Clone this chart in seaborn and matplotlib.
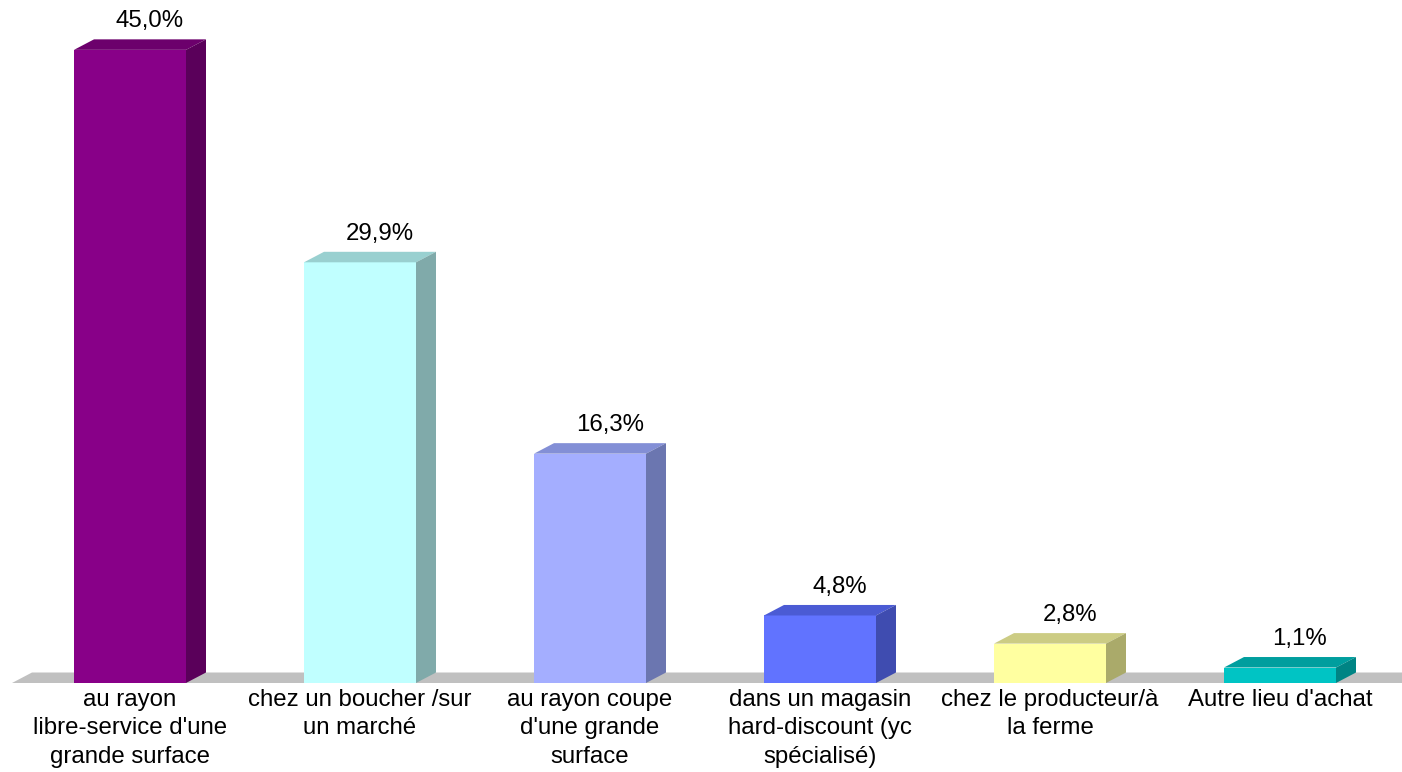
import matplotlib
matplotlib.use("Agg")
import matplotlib.pyplot as plt
from matplotlib.patches import Polygon
import seaborn as sns

# data
categories = [
    "au rayon\nlibre-service d'une\ngrande surface",
    "chez un boucher /sur\nun marché",
    "au rayon coupe\nd'une grande\nsurface",
    "dans un magasin\nhard-discount (yc\nspécialisé)",
    "chez le producteur/à\nla ferme",
    "Autre lieu d'achat",
]
values = [45.0, 29.9, 16.3, 4.8, 2.8, 1.1]
labels = ["45,0%", "29,9%", "16,3%", "4,8%", "2,8%", "1,1%"]

# colours: front / top / side of each 3D bar
front = ["#880088", "#c0ffff", "#a4aeff", "#6173ff", "#ffffa0", "#00c4c4"]
top = ["#6c006c", "#99d0d0", "#838fd6", "#4b5bd4", "#cccc84", "#009e9e"]
side = ["#5a005a", "#80aaaa", "#6b76b0", "#3f4cb0", "#aaaa6a", "#008484"]

W, H, DPI = 1402, 772, 100
SPACING = 230.0      # px between categories
PX_PER_PCT = 14.07   # px per percentage point
DX = 20 / SPACING    # depth offset (x, data units)
DY = 10.5 / PX_PER_PCT

sns.set_theme(style="white")
plt.rcParams["font.family"] = ["Liberation Sans", "DejaVu Sans"]

fig = plt.figure(figsize=(W / DPI, H / DPI), dpi=DPI)
ax = fig.add_axes([0, 89 / H, 1, 683 / H])

sns.barplot(x=categories, y=values, hue=categories, palette=front,
            saturation=1, width=112 / SPACING, legend=False, ax=ax,
            linewidth=0, zorder=3)

ax.set_xlim(-130 / SPACING, (W - 130) / SPACING)
ax.set_ylim(0, 683 / PX_PER_PCT)

# floor
x0 = -118 / SPACING
x1 = ax.get_xlim()[1] + 0.2
ax.add_patch(Polygon([(x0, 0), (x0 + DX, DY), (x1, DY), (x1, 0)],
                     closed=True, facecolor="#c0c0c0", edgecolor="none",
                     zorder=1, clip_on=False))

for i, p in enumerate(ax.patches[:len(values)]):
    l = p.get_x()
    r = l + p.get_width()
    h = p.get_height()
    ax.add_patch(Polygon([(l, h), (l + DX, h + DY), (r + DX, h + DY), (r, h)],
                         closed=True, facecolor=top[i], edgecolor="none", zorder=3))
    ax.add_patch(Polygon([(r, 0), (r + DX, DY), (r + DX, h + DY), (r, h)],
                         closed=True, facecolor=side[i], edgecolor="none", zorder=3))
    ax.annotate(labels[i], (l + p.get_width() / 2 + DX, h + DY),
                xytext=(0, 5), textcoords="offset points",
                ha="center", va="bottom", fontsize=17.3, color="#000000")

ax.tick_params(axis="x", length=0, pad=4, labelsize=17.3, labelcolor="#000000")
for t in ax.get_xticklabels():
    t.set_linespacing(1.4)
ax.set_yticks([])
ax.set_xlabel("")
for s in ax.spines.values():
    s.set_visible(False)

fig.savefig("out.png", dpi=DPI)
